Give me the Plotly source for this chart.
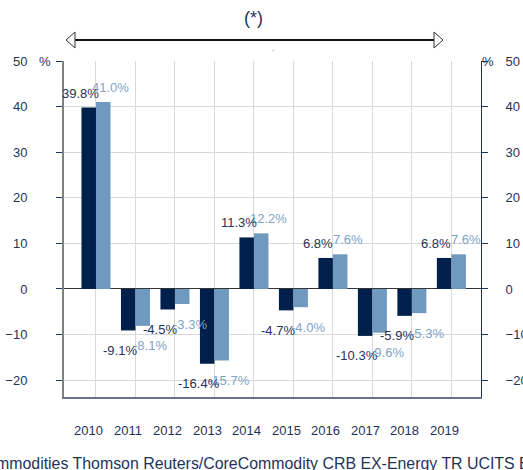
import plotly.graph_objects as go

years = ["2010", "2011", "2012", "2013", "2014", "2015", "2016", "2017", "2018", "2019"]
fund = [39.8, -9.1, -4.5, -16.4, 11.3, -4.7, 6.8, -10.3, -5.9, 6.8]
index = [41.0, -8.1, -3.3, -15.7, 12.2, -4.0, 7.6, -9.6, -5.3, 7.6]
ytick_vals = [-20, -10, 0, 10, 20, 30, 40, 50]
legend_text = "Lyxor Commodities Thomson Reuters/CoreCommodity CRB EX-Energy TR UCITS ETF"

DARK = "#001f4b"
LIGHT = "#7099c0"
LIGHT_TXT = "#7fa3c9"
NAVY_TXT = "#1f3358"
FONT = "Liberation Sans, Arial, sans-serif"

W, H = 523, 470
L, R, T, B = 64, 481, 61, 397


def px(x):
    return (x - L) / (R - L)


def py(y):
    return (B - y) / (B - T)


fig = go.Figure()
fig.add_trace(go.Bar(x=years, y=fund, marker=dict(color=DARK, line=dict(width=0)),
                     name="Fund", hoverinfo="skip"))
fig.add_trace(go.Bar(x=years, y=index, marker=dict(color=LIGHT, line=dict(width=0)),
                     name="Index", hoverinfo="skip"))
fig.add_trace(go.Scatter(x=years, y=[None] * len(years), yaxis="y2", showlegend=False,
                         hoverinfo="skip", mode="lines"))

ann = []
for i, v in enumerate(index):
    ann.append(dict(x=i, y=v, xref="x", yref="y", text=f"{v:.1f}%", showarrow=False,
                    xshift=15, yshift=14.5 if v >= 0 else -20, xanchor="center", yanchor="middle",
                    font=dict(family=FONT, size=13, color=LIGHT_TXT)))
for i, v in enumerate(fund):
    ann.append(dict(x=i, y=v, xref="x", yref="y", text=f"{v:.1f}%", showarrow=False,
                    xshift=-15, yshift=14.5 if v >= 0 else -20, xanchor="center", yanchor="middle",
                    font=dict(family=FONT, size=13, color=NAVY_TXT)))
for i, yr in enumerate(years):
    ann.append(dict(x=i, y=py(430), xref="x", yref="paper", text=yr, showarrow=False,
                    xshift=-7, xanchor="center", yanchor="middle",
                    font=dict(family=FONT, size=13, color=NAVY_TXT)))
ann += [
    dict(x=px(45), y=py(61), xref="paper", yref="paper", text="%", showarrow=False,
         xanchor="center", yanchor="middle", font=dict(family=FONT, size=13, color=NAVY_TXT)),
    dict(x=px(488), y=py(61), xref="paper", yref="paper", text="%", showarrow=False,
         xanchor="center", yanchor="middle", font=dict(family=FONT, size=13, color=NAVY_TXT)),
    dict(x=px(253), y=py(18), xref="paper", yref="paper", text="(*)", showarrow=False,
         xanchor="center", yanchor="middle", font=dict(family=FONT, size=18, color=NAVY_TXT)),
    dict(x=px(273), y=py(49), xref="paper", yref="paper", text=".", showarrow=False,
         xanchor="center", yanchor="middle", font=dict(family=FONT, size=7, color="#333333")),
    dict(x=px(-69.5), y=py(463), xref="paper", yref="paper", text=legend_text, showarrow=False,
         xanchor="left", yanchor="middle", font=dict(family=FONT, size=15.9, color=NAVY_TXT)),
]

shapes = [
    dict(type="line", xref="paper", yref="paper", x0=px(74), x1=px(435), y0=py(40), y1=py(40),
         line=dict(color="#111111", width=2)),
    dict(type="path", xref="paper", yref="paper",
         path=f"M {px(66)} {py(40)} L {px(75)} {py(32)} L {px(75)} {py(48)} Z",
         fillcolor="white", line=dict(color="#333333", width=1)),
    dict(type="path", xref="paper", yref="paper",
         path=f"M {px(443)} {py(40)} L {px(434)} {py(32)} L {px(434)} {py(48)} Z",
         fillcolor="white", line=dict(color="#333333", width=1)),
]

yr_range = [-23.7, 50]
fig.update_layout(
    width=W, height=H,
    margin=dict(l=L, r=W - R, t=T, b=H - B, pad=0, autoexpand=False),
    paper_bgcolor="white", plot_bgcolor="white",
    barmode="group", bargap=0.265, bargroupgap=0,
    showlegend=False,
    font=dict(family=FONT, size=13, color=NAVY_TXT),
    xaxis=dict(type="category", range=[-0.81, 9.75], showticklabels=False, automargin=False,
               showgrid=True, gridcolor="#d9d9d9", gridwidth=1,
               showline=True, linecolor="#6b7488", linewidth=2, ticks="",
               zeroline=False, fixedrange=True),
    yaxis=dict(range=yr_range, tickvals=ytick_vals, showgrid=True, gridcolor="#d9d9d9",
               gridwidth=1, zeroline=True, zerolinecolor="#333333", zerolinewidth=1,
               showline=True, linecolor="#808080", linewidth=2, automargin=False,
               ticks="outside", ticklen=6, tickcolor="#1f3358", ticklabelstandoff=26,
               tickfont=dict(family=FONT, size=13, color=NAVY_TXT), fixedrange=True),
    yaxis2=dict(range=yr_range, tickvals=ytick_vals, overlaying="y", side="right",
                showgrid=False, zeroline=False, showline=True, linecolor="#1f2d4f",
                linewidth=1, ticks="outside", ticklen=6, tickcolor="#1f3358",
                ticklabelstandoff=15, automargin=False,
                tickfont=dict(family=FONT, size=13, color=NAVY_TXT), fixedrange=True),
    annotations=ann,
    shapes=shapes,
)

fig.write_html("out.html", config={"displayModeBar": False},
               post_script="document.body.style.margin='0';")
